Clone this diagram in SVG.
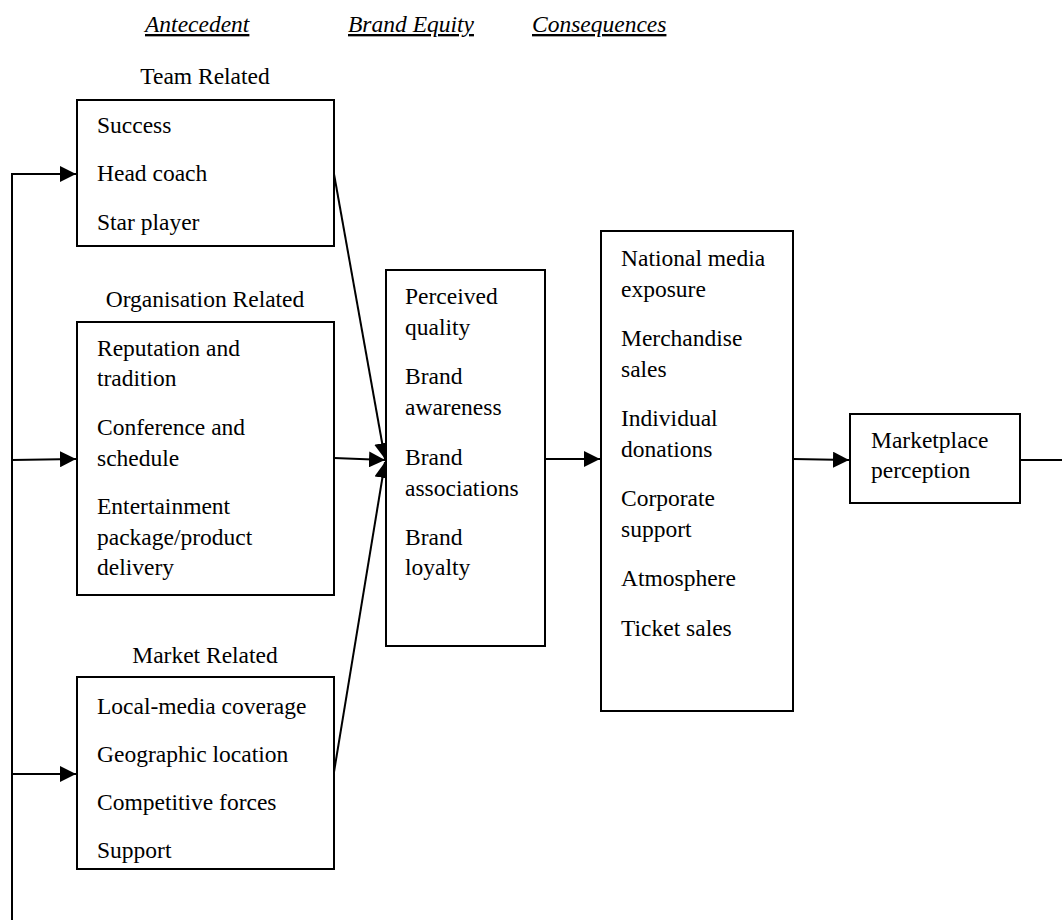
<svg xmlns="http://www.w3.org/2000/svg" width="1062" height="920" viewBox="0 0 1062 920">
  <style>
    text { font-family: "Liberation Serif", "Times New Roman", serif; font-size: 23.5px; fill: #000; }
    .hdr { font-style: italic; text-decoration: underline; }
    .mid { text-anchor: middle; }
    .box { fill: #fff; stroke: #000; stroke-width: 2; }
    .ln { fill: none; stroke: #000; stroke-width: 2; }
  </style>
  <defs>
    <marker id="arr" viewBox="0 0 10 10" refX="10" refY="5" markerWidth="16" markerHeight="16" markerUnits="userSpaceOnUse" orient="auto">
      <path d="M0,0 L10,5 L0,10 Z" fill="#000"/>
    </marker>
  </defs>
  <rect width="1062" height="920" fill="#fff"/>

  <!-- column headings -->
  <g id="headings">
    <text class="hdr" x="145" y="32">Antecedent</text>
    <text class="hdr" x="348" y="32">Brand Equity</text>
    <text class="hdr" x="532" y="32">Consequences</text>
  </g>

  <!-- connectors -->
  <g id="connectors">
    <polyline class="ln" points="12,920 12,174 76,174" marker-end="url(#arr)"/>
    <line class="ln" x1="12" y1="460" x2="76" y2="459" marker-end="url(#arr)"/>
    <line class="ln" x1="12" y1="774" x2="76" y2="774" marker-end="url(#arr)"/>
    <line class="ln" x1="334" y1="174" x2="385" y2="459" marker-end="url(#arr)"/>
    <line class="ln" x1="334" y1="458" x2="385" y2="460" marker-end="url(#arr)"/>
    <line class="ln" x1="334" y1="772" x2="385" y2="462" marker-end="url(#arr)"/>
    <line class="ln" x1="545" y1="459" x2="600" y2="459" marker-end="url(#arr)"/>
    <line class="ln" x1="793" y1="459" x2="849" y2="460" marker-end="url(#arr)"/>
    <line class="ln" x1="1020" y1="460" x2="1062" y2="460"/>
  </g>

  <g id="team">
    <text class="mid" x="205" y="84">Team Related</text>
    <rect class="box" x="77" y="100" width="257" height="146"/>
    <text x="97" y="133">Success</text>
    <text x="97" y="181">Head coach</text>
    <text x="97" y="230">Star player</text>
  </g>

  <g id="organisation">
    <text class="mid" x="205" y="307">Organisation Related</text>
    <rect class="box" x="77" y="322" width="257" height="273"/>
    <text x="97" y="356">Reputation and</text>
    <text x="97" y="386">tradition</text>
    <text x="97" y="435">Conference and</text>
    <text x="97" y="466">schedule</text>
    <text x="97" y="514">Entertainment</text>
    <text x="97" y="545">package/product</text>
    <text x="97" y="575">delivery</text>
  </g>

  <g id="market">
    <text class="mid" x="205" y="663">Market Related</text>
    <rect class="box" x="77" y="677" width="257" height="192"/>
    <text x="97" y="714">Local-media coverage</text>
    <text x="97" y="762">Geographic location</text>
    <text x="97" y="810">Competitive forces</text>
    <text x="97" y="858">Support</text>
  </g>

  <g id="brand-equity">
    <rect class="box" x="386" y="270" width="159" height="376"/>
    <text x="405" y="304">Perceived</text>
    <text x="405" y="335">quality</text>
    <text x="405" y="384">Brand</text>
    <text x="405" y="415">awareness</text>
    <text x="405" y="465">Brand</text>
    <text x="405" y="496">associations</text>
    <text x="405" y="545">Brand</text>
    <text x="405" y="575">loyalty</text>
  </g>

  <g id="consequences">
    <rect class="box" x="601" y="231" width="192" height="480"/>
    <text x="621" y="266">National media</text>
    <text x="621" y="297">exposure</text>
    <text x="621" y="346">Merchandise</text>
    <text x="621" y="377">sales</text>
    <text x="621" y="426">Individual</text>
    <text x="621" y="457">donations</text>
    <text x="621" y="506">Corporate</text>
    <text x="621" y="537">support</text>
    <text x="621" y="586">Atmosphere</text>
    <text x="621" y="636">Ticket sales</text>
  </g>

  <g id="marketplace">
    <rect class="box" x="850" y="414" width="170" height="89"/>
    <text x="871" y="448">Marketplace</text>
    <text x="871" y="478">perception</text>
  </g>
</svg>
